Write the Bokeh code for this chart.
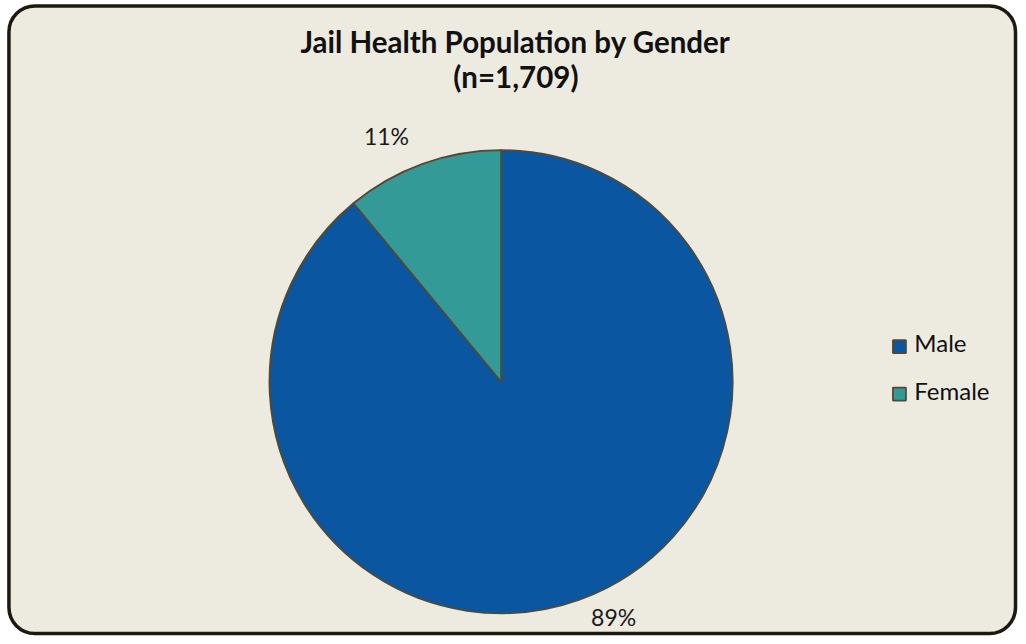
import math
from bokeh.plotting import figure
from bokeh.models import Range1d, BoxAnnotation, ColumnDataSource
from bokeh.core.properties import value
from bokeh.embed import file_html
from bokeh.resources import INLINE

# ---- data ----
categories = ["Male", "Female"]
percents = [89, 11]
labels = ["89%", "11%"]
colors = ["#0A56A0", "#349A97"]
title_lines = ["Jail Health Population by Gender", "(n=1,709)"]

# ---- layout ----
W, H = 1018, 636
REF_W, REF_H = 1026, 644
sx, sy = W / REF_W, H / REF_H
FONT = "Lato"
BG = "#EDEAE0"
EDGE = "#4F4A38"
BASE_SHIFT = 0.42  # baseline correction as fraction of font size


def X(px):
    return px * sx


def Y(py):
    return H - py * sy


def TY(py, size):
    return Y(py) + BASE_SHIFT * size


p = figure(width=W, height=H, output_backend="svg", toolbar_location=None,
           x_range=Range1d(0, W), y_range=Range1d(0, H),
           x_axis_type=None, y_axis_type=None, min_border=0,
           background_fill_color="white", border_fill_color="white",
           outline_line_color=None)
p.grid.visible = False

box = BoxAnnotation(left=X(8.5), right=X(1023), bottom=Y(641), top=Y(5.5),
                    border_radius=26, fill_color=BG, fill_alpha=1,
                    line_color="#1C1A10", line_alpha=1, line_width=3.5,
                    level="underlay")
p.add_layout(box)

# wedges: Excel style, start at 12 o'clock, clockwise
cx, cy, R = X(504.5), Y(386), 234.5 * sy
total = sum(percents)
starts, ends = [], []
a = math.pi / 2
for v in percents:
    starts.append(a)
    a -= 2 * math.pi * v / total
    ends.append(a)
src = ColumnDataSource(dict(start=starts, end=ends, color=colors, cat=categories))
p.wedge(x=cx, y=cy, radius=R, start_angle="start", end_angle="end",
        direction="clock", fill_color="color", line_color=EDGE, line_width=1.8,
        source=src)

# data labels (positions are layout)
LS = 23
label_pos = [(618, 634), (389, 146.7)]
p.text(x=[X(q[0]) for q in label_pos], y=[TY(q[1], LS) for q in label_pos],
       text=labels, text_font=value(FONT), text_font_size=f"{LS}px",
       text_color="#1a1a1a", text_align="center", text_baseline="alphabetic")

# title
TS = 29.5
p.text(x=[X(519), X(519.5)], y=[TY(54.3, TS), TY(90, TS)], text=title_lines,
       text_font=value(FONT), text_font_style="bold", text_font_size=f"{TS}px",
       text_color="#111111", text_align="center", text_baseline="alphabetic")

# legend
GS = 24
p.rect(x=[X(906)] * 2, y=[Y(350.5), Y(398.5)], width=13, height=13,
       fill_color=colors, line_color=EDGE, line_width=1.8)
p.text(x=[X(921)] * 2, y=[TY(357, GS), TY(405, GS)], text=categories,
       text_font=value(FONT), text_font_size=f"{GS}px", text_color="#111111",
       text_align="left", text_baseline="alphabetic")

open("out.html", "w").write(file_html(p, INLINE))
